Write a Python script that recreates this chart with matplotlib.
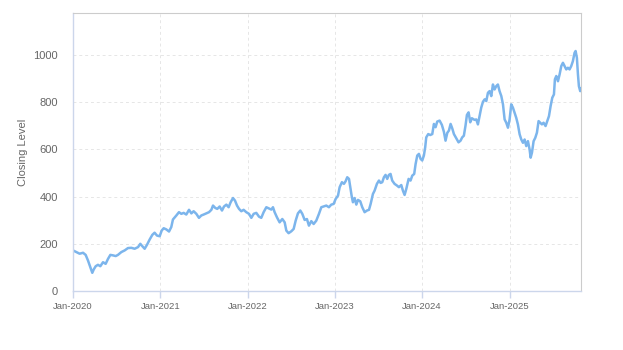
import matplotlib
matplotlib.use("Agg")
import matplotlib.pyplot as plt
import matplotlib.dates as mdates
import pandas as pd

# ---- data ----
years_since_2020 = [
    0, .038, .076, .115, .145, .172, .199, .221, .237, .260, .286, .313, .344, .374, .401, .428,
    .458, .489, .515, .554, .592, .630, .668, .706, .745, .771, .794, .821, .848, .878, .909, .935,
    .962, .993, 1.016, 1.039, 1.069, 1.100, 1.126, 1.145,
    1.184, 1.214, 1.241, 1.268, 1.298, 1.329, 1.356, 1.382, 1.413, 1.443, 1.470, 1.497, 1.527, 1.558,
    1.585, 1.604, 1.630, 1.653, 1.680, 1.707, 1.730, 1.757, 1.783, 1.806, 1.833, 1.856, 1.879, 1.902,
    1.928, 1.955, 1.985, 2.016, 2.043, 2.070, 2.100, 2.131, 2.157, 2.184, 2.215, 2.245, 2.272,
    2.291, 2.310, 2.337, 2.367, 2.398, 2.425, 2.444, 2.470, 2.501, 2.528, 2.551, 2.577, 2.604, 2.627,
    2.654, 2.680, 2.703, 2.730, 2.757, 2.787, 2.818, 2.845, 2.871, 2.902, 2.932, 2.959, 2.986, 3.009,
    3.036, 3.055, 3.081, 3.104, 3.123, 3.142, 3.162, 3.177, 3.192, 3.207, 3.226, 3.246, 3.265, 3.291,
    3.314, 3.341, 3.368, 3.391, 3.410,
    3.436, 3.455, 3.482, 3.505, 3.524, 3.543, 3.562, 3.581, 3.600, 3.619, 3.638, 3.657, 3.684, 3.711,
    3.734, 3.761, 3.780, 3.799, 3.818, 3.845, 3.867, 3.887, 3.909, 3.925, 3.944, 3.963, 3.982, 4.001,
    4.020, 4.035, 4.047, 4.070, 4.093, 4.116, 4.135, 4.154, 4.173, 4.200, 4.226, 4.249, 4.268, 4.288,
    4.307, 4.326, 4.345, 4.364, 4.391, 4.417, 4.440, 4.459, 4.478, 4.497, 4.513, 4.532, 4.551, 4.570,
    4.601, 4.620, 4.639, 4.658, 4.677, 4.697, 4.716, 4.735, 4.754, 4.773, 4.792, 4.811, 4.830, 4.849,
    4.868, 4.887, 4.907, 4.926, 4.945, 4.964, 4.983, 5.002, 5.021, 5.040, 5.059, 5.078, 5.097, 5.117,
    5.136, 5.155, 5.174, 5.193, 5.212, 5.231, 5.243, 5.258, 5.277, 5.296, 5.315, 5.334, 5.353, 5.372,
    5.391, 5.414, 5.433, 5.453, 5.472, 5.491, 5.510, 5.521, 5.537, 5.556, 5.575, 5.594, 5.613, 5.632,
    5.651, 5.670, 5.689, 5.708, 5.727, 5.746, 5.758, 5.773, 5.785, 5.796, 5.811, 5.820,
]
closing_level = [
    172, 165, 158, 162, 153, 129, 101, 77, 91, 105, 111, 105, 122, 115, 136, 153,
    151, 148, 153, 165, 172, 182, 183, 179, 186, 200, 190, 179, 196, 218, 238, 247,
    235, 232, 256, 266, 261, 252, 271, 303,
    320, 334, 327, 331, 324, 344, 329, 338, 327, 310, 320, 324, 329, 334,
    344, 362, 352, 348, 358, 341, 358, 366, 355, 376, 394, 383, 362, 348,
    338, 344, 334, 327, 310, 327, 331, 315, 310, 334, 355, 350, 345,
    355, 334, 312, 291, 305, 291, 256, 245, 253, 263, 298, 329, 341, 327,
    301, 305, 277, 296, 284, 298, 327, 355, 358, 362, 355, 366, 369, 390,
    404, 440, 461, 454, 465, 482, 475, 440, 404, 376, 394, 366, 386, 380,
    355, 334, 341, 344, 369,
    411, 425, 454, 468, 458, 461, 482, 492, 475, 492, 496, 468, 454, 447,
    440, 449, 425, 407, 432, 475, 468, 489, 496, 538, 574, 581, 560, 553,
    574, 609, 651, 665, 661, 665, 708, 694, 718, 722, 704, 675, 637, 670,
    680, 708, 689, 665, 647, 630, 637, 651, 658, 701, 746, 757, 715, 732,
    725, 727, 706, 741, 777, 802, 812, 805, 840, 847, 826, 875, 854, 868,
    875, 847, 826, 791, 727, 713, 692, 727, 791, 777, 755, 734, 706, 664,
    642, 628, 642, 614, 635, 600, 565, 586, 635, 649, 671, 720, 713, 706,
    713, 699, 720, 741, 784, 819, 833, 897, 911, 889, 918, 953, 967, 953,
    939, 946, 939, 953, 974, 1009, 1017, 988, 918, 868, 847, 858,
]
y_ticks = [0, 200, 400, 600, 800, 1000]
y_label = "Closing Level"

dates = pd.Timestamp("2020-01-01") + pd.to_timedelta(
    [y * 365.25 for y in years_since_2020], unit="D")

plt.rcParams["font.family"] = ["Liberation Sans", "DejaVu Sans"]

fig = plt.figure(figsize=(6.23, 3.5), dpi=100)
ax = fig.add_axes([73 / 623, 59 / 350, 508 / 623, 278 / 350])

ax.plot(dates, closing_level, color="#7cb5ec", lw=1.8, solid_joinstyle="round")

ax.set_xlim(dates[0], dates[-1])
ax.set_ylim(0, 1178)
ax.set_yticks(y_ticks)

ax.xaxis.set_major_locator(mdates.YearLocator())
ax.xaxis.set_major_formatter(mdates.DateFormatter("%b-%Y"))

ax.grid(True, color="#e6e6e6", linestyle=(0, (3, 3)), linewidth=0.7)
ax.set_axisbelow(True)

for side in ["top", "right"]:
    ax.spines[side].set_color("#cccccc")
    ax.spines[side].set_linewidth(0.8)
for side in ["left", "bottom"]:
    ax.spines[side].set_color("#ccd6eb")
    ax.spines[side].set_linewidth(1.0)

ax.tick_params(axis="y", length=0, pad=11, labelsize=8, labelcolor="#666666")
ax.tick_params(axis="x", length=5, width=1, color="#ccd6eb", pad=3,
               labelsize=6.8, labelcolor="#666666")

ax.set_ylabel(y_label, fontsize=8, color="#666666", labelpad=4)

fig.savefig("out.png", dpi=100)
